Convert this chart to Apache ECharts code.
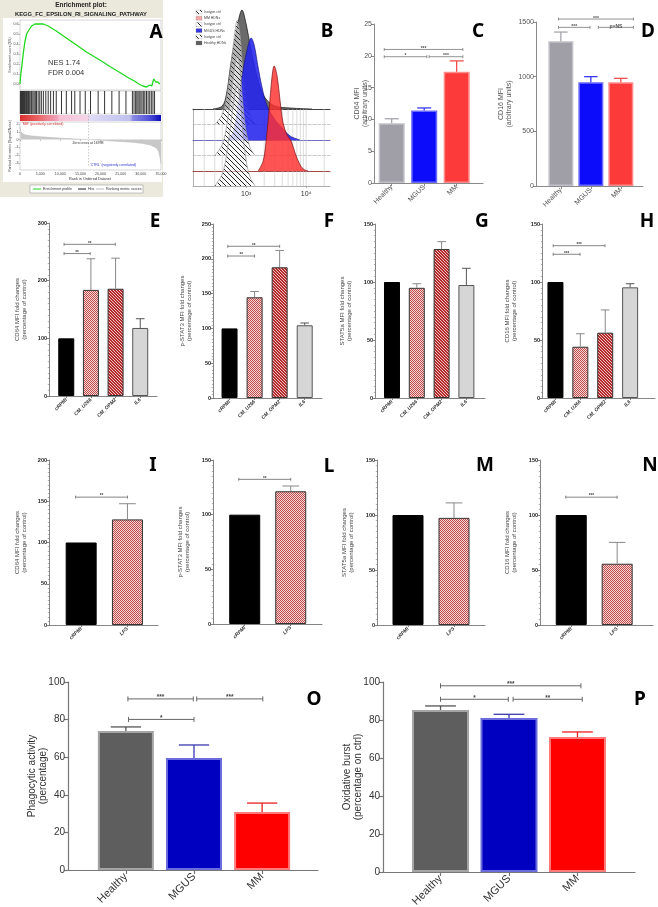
<!DOCTYPE html>
<html>
<head>
<meta charset="utf-8">
<title>Monocyte CD64 / CD16 panels</title>
<script src="https://cdn.jsdelivr.net/npm/echarts@6.0.0/dist/echarts.min.js"></script>
<style>
  html, body { margin: 0; padding: 0; background: #fff; }
  #fig { width: 658px; height: 907px; }
</style>
</head>
<body>
<div id="fig"></div>
<script>
// ---------- data ----------

// A: GSEA enrichment plot
const esRank  = [0, 200, 400, 800, 1200, 1650, 2200, 2900, 3700, 4500, 5800, 7000, 9000, 11500, 14000, 16500, 19800, 22500, 25000, 27000, 28400, 29500, 30500, 31400, 32200, 32700, 33200, 33700, 34200, 34700];
const esScore = [0, 0.1, 0.16, 0.3, 0.42, 0.5, 0.54, 0.58, 0.6, 0.6, 0.6, 0.58, 0.53, 0.46, 0.39, 0.32, 0.24, 0.17, 0.11, 0.06, 0.03, 0.0, -0.02, -0.03, -0.01, -0.02, 0.05, 0.02, 0.02, 0.0];
const hitRanks = [100, 250, 400, 600, 750, 900, 1100, 1300, 1500, 1650, 1900, 2100, 2400, 2700, 2900, 3200, 3500, 3800, 4100, 4500, 4900, 5300, 5800, 6400, 7000, 7600, 8300, 9000,
  10300, 11500, 12800, 13600, 14900, 16200, 17500, 19400, 21000, 22800, 24600, 26300,
  27900, 28300, 28700, 29000, 29300, 29600, 30000, 30300, 30700, 31000, 31400, 31800, 32200, 32600, 33000, 33400];
const metricRank  = [0, 150, 500, 1200, 2500, 5000, 8000, 12000, 16998, 21000, 25000, 28000, 30500, 32500, 33800, 34400, 34800, 35000];
const metricScore = [1.7, 1.1, 0.8, 0.62, 0.48, 0.36, 0.25, 0.12, 0, -0.12, -0.25, -0.36, -0.5, -0.72, -1.05, -1.5, -2.4, -3.1];
const zeroCross = 16998;
const esTicks = [0, 0.1, 0.2, 0.3, 0.4, 0.5, 0.6];
const metricTicks = [2, 1, 0, -1, -2, -3];
const rankTicks = [0, 5000, 10000, 15000, 20000, 25000, 30000, 35000];

// B: CD64 histograms (intensity, event count)
const healthyMfi   = [280, 400, 470, 540, 630, 740, 850, 1000, 1180, 1410, 1700, 2140, 3000, 5400, 12500];
const healthyCount = [0, 3, 15, 40, 65, 88, 99, 85, 62, 40, 22, 10, 3, 1, 0];
const mgusMfi   = [500, 610, 735, 890, 1080, 1210, 1360, 1590, 1850, 2240, 3050, 3980, 5400, 7900];
const mgusCount = [0, 8, 35, 70, 95, 102, 95, 72, 52, 34, 20, 12, 4, 0];
const mmMfi   = [1590, 1920, 2150, 2420, 2710, 2930, 3280, 3680, 4130, 4810, 5620, 6550, 7650, 8920, 10800];
const mmCount = [0, 10, 30, 62, 95, 105, 95, 70, 48, 36, 30, 18, 8, 2, 0];
const isoMfi = [300, 400, 480, 560, 640, 710, 790, 880, 1000, 1180, 1410];
const isoHealthyCount = [0, 10, 30, 60, 90, 104, 90, 55, 25, 8, 0];
const isoMgusCount    = [0, 11, 32, 62, 88, 100, 86, 52, 24, 7, 0];
const isoMmCount      = [0, 12, 34, 64, 90, 100, 86, 54, 25, 8, 0];
const histGridMfi = [200, 300, 400, 500, 600, 700, 800, 900, 1000, 2000, 3000, 4000, 5000, 6000, 7000, 8000, 9000, 10000, 20000];
const histTickMfi = [1000, 10000];
const histTickText = ['10³', '10⁴'];
const histLegend = ['Isotype ctrl', 'MM HDNs', 'Isotype ctrl', 'MGUS HDNs', 'Isotype ctrl', 'Healthy HDNs'];

// C, D, O, P: patient groups
const groupCats = ['Healthy', 'MGUS', 'MM'];
const cd64Mfi    = [9.4, 11.4, 17.5];
const cd64MfiErr = [10.1, 11.8, 19.2];
const cd16Mfi    = [1325, 950, 948];
const cd16MfiErr = [1408, 1000, 985];
const phagocytic    = [74, 59.6, 30.9];
const phagocyticErr = [76.1, 66.5, 35.6];
const oxBurst    = [85.3, 81, 71];
const oxBurstErr = [87.4, 83, 73.7];

// E-H: conditioned media
const cmCats = ['cRPMI', 'CM_U266', 'CM_OPM2', 'IL6'];
const cmCd64      = [100, 184, 186, 118];
const cmCd64Err   = [100, 238, 239, 134];
const cmPstat3    = [100, 144.7, 187.8, 104.5];
const cmPstat3Err = [100, 153, 212, 107.8];
const cmStat5a    = [100, 95, 128.4, 97.4];
const cmStat5aErr = [100, 98.5, 134.8, 111.8];
const cmCd16      = [100, 44.2, 56.3, 95.4];
const cmCd16Err   = [100, 55.4, 75.9, 98.5];

// I-N: LPS
const lpsCats = ['cRPMI', 'LPS'];
const lpsCd64      = [100, 128];
const lpsCd64Err   = [100, 147];
const lpsPstat3    = [100, 121.4];
const lpsPstat3Err = [100, 126.2];
const lpsStat5a    = [100, 97.4];
const lpsStat5aErr = [100, 111];
const lpsCd16      = [100, 55.7];
const lpsCd16Err   = [100, 75.1];

// significance brackets: [from, to, value, label]
const cBrackets = [[-0.23, 2.19, 21.0, '***'], [-0.23, 1.08, 19.86, '*'], [1.15, 2.19, 19.86, '***']];
const dBrackets = [[-0.08, 2.42, 1527, '***'], [-0.08, 0.97, 1451, '***'], [1.25, 2.42, 1451, 'p=NS']];
const eBrackets = [[-0.09, 1.99, 263, '**'], [-0.09, 0.97, 247, '**']];
const fBrackets = [[-0.07, 2.0, 218, '**'], [-0.07, 1.0, 204, '**']];
const hBrackets = [[-0.09, 1.99, 131.3, '***'], [-0.09, 0.99, 123.9, '***']];
const iBrackets = [[-0.12, 1.0, 155, '**']];
const lBrackets = [[-0.13, 1.0, 132.3, '**']];
const nBrackets = [[-0.12, 1.0, 116.2, '***']];
const oBrackets = [[0.03, 0.99, 91, '***'], [1.04, 2.01, 91, '***'], [0.04, 1.0, 80.1, '*']];
const pBrackets = [[0, 2.05, 98, '***'], [0, 0.99, 90.9, '*'], [1.06, 2.07, 90.9, '**']];

// ---------- helpers ----------
const FONT = '"Liberation Sans", Arial, sans-serif';
const gridL = [], xA = [], yA = [], seriesL = [], gfx = [];

function addGrid(g, xa, ya) {
  const i = gridL.length;
  gridL.push(Object.assign({containLabel: false, outerBoundsMode: 'none'}, g));
  xA.push(Object.assign({gridIndex: i, nameMoveOverlap: false}, xa));
  yA.push(Object.assign({gridIndex: i, nameMoveOverlap: false}, ya));
  return i;
}

function txt(x, y, text, font, fill, align, vAlign, rot) {
  gfx.push({
    type: 'text', x: x, y: y, rotation: rot || 0, z: 50,
    style: {text: text, font: font, fill: fill, align: align || 'left', textAlign: align || 'left',
            verticalAlign: vAlign || 'middle', textVerticalAlign: vAlign || 'middle'}
  });
}

function makePattern(w, h, draw) {
  const c = document.createElement('canvas');
  c.width = w; c.height = h;
  draw(c.getContext('2d'));
  return {image: c, repeat: 'repeat'};
}
const checkPink = makePattern(2, 2, ctx => {
  ctx.fillStyle = '#f3d8d8'; ctx.fillRect(0, 0, 2, 2);
  ctx.fillStyle = '#c24a4a'; ctx.fillRect(0, 0, 1, 1); ctx.fillRect(1, 1, 1, 1);
});
const hatchRed = makePattern(3, 3, ctx => {
  ctx.fillStyle = '#b42a2a'; ctx.fillRect(0, 0, 3, 3);
  ctx.fillStyle = '#efc4c4';
  for (let i = 0; i < 3; i++) ctx.fillRect(i, i, 1, 1);
});
// isotype hatch: see-through background, dark "\" strokes
const hatchIso = makePattern(5, 5, ctx => {
  ctx.fillStyle = 'rgba(255,255,255,0.5)'; ctx.fillRect(0, 0, 5, 5);
  ctx.fillStyle = '#262626';
  for (let i = 0; i < 5; i++) ctx.fillRect(i, i, 1, 1);
});

const styleSmall = {axis: '#8a8a8a', axisW: 1, tick: 3, num: 7, numColor: '#555', numWeight: 'normal', numMargin: 2,
  cat: 7, catColor: '#555', catWeight: 'normal', catStyle: 'normal', catMargin: 3, name: 7, nameLH: 8, nameColor: '#555',
  barBorder: 1.5, errW: 1.2, brk: '#777', brkW: 0.8, brkText: '#555', brkFont: 5, cap: 1.5, minor: false};
const styleTiny = {axis: '#666', axisW: 0.8, tick: 2, num: 5.5, numColor: '#222', numWeight: 'bold', numMargin: 2,
  cat: 5, catColor: '#333', catWeight: 'bold', catStyle: 'italic', catMargin: 3, name: 6, nameLH: 7.2, nameColor: '#444',
  barBorder: 1, errW: 1, brk: '#666', brkW: 0.8, brkText: '#444', brkFont: 4.5, cap: 1.5, minor: true};
const styleLarge = {axis: '#777', axisW: 1.2, tick: 4, num: 10, numColor: '#333', numWeight: 'normal', numMargin: 3,
  cat: 11, catColor: '#333', catWeight: 'normal', catStyle: 'normal', catMargin: 5, name: 10, nameLH: 10.5, nameColor: '#333',
  barBorder: 2, errW: 1.3, brk: '#666', brkW: 1, brkText: '#444', brkFont: 6.5, cap: 2.5, minor: false};

function barPanel(p) {
  const s = p.style;
  const idx = p.cats.map((c, i) => i);
  const gi = addGrid({left: p.left, top: p.top, width: p.width, height: p.height}, {
    type: 'value', min: p.xmin, max: p.xmax,
    axisLine: {show: true, onZero: false, lineStyle: {color: s.axis, width: s.axisW}},
    axisTick: {show: true, customValues: idx, length: s.tick, lineStyle: {color: s.axis, width: s.axisW}},
    axisLabel: {show: true, customValues: idx, formatter: v => p.cats[Math.round(v)], rotate: 45,
      fontSize: s.cat, color: s.catColor, fontWeight: s.catWeight, fontStyle: s.catStyle, margin: s.catMargin, fontFamily: FONT},
    splitLine: {show: false}
  }, {
    type: 'value', min: 0, max: p.ymax, interval: p.step,
    name: p.yName, nameLocation: 'middle', nameGap: p.nameGap, nameRotate: 90,
    nameTextStyle: {fontSize: s.name, color: s.nameColor, lineHeight: s.nameLH, fontFamily: FONT},
    axisLine: {show: true, onZero: false, lineStyle: {color: s.axis, width: s.axisW}},
    axisTick: {show: true, length: s.tick, lineStyle: {color: s.axis, width: s.axisW}},
    minorTick: {show: s.minor, splitNumber: 10, length: 1.2, lineStyle: {color: s.axis, width: 0.5}},
    axisLabel: {fontSize: s.num, color: s.numColor, fontWeight: s.numWeight, margin: s.numMargin, fontFamily: FONT,
      formatter: v => String(v)},
    splitLine: {show: false}
  });
  seriesL.push({
    type: 'bar', xAxisIndex: gi, yAxisIndex: gi, barWidth: p.barWidth, z: 3, silent: true,
    data: p.vals.map((v, i) => ({value: [i, v],
      itemStyle: {color: p.fills[i], borderColor: p.borders[i], borderWidth: s.barBorder}}))
  });
  seriesL.push({
    type: 'custom', xAxisIndex: gi, yAxisIndex: gi, z: 4, silent: true,
    encode: {x: 0, y: [1, 2]},
    data: p.vals.map((v, i) => [i, v, p.errs[i]]),
    renderItem: (params, api) => {
      const i = params.dataIndex;
      const top = api.coord([api.value(0), api.value(2)]);
      const base = api.coord([api.value(0), api.value(1)]);
      if (base[1] - top[1] < 0.5) return {type: 'group', children: []};
      const hw = p.barWidth * 0.27;
      const st = {stroke: p.errColors[i], lineWidth: s.errW};
      return {type: 'group', children: [
        {type: 'line', shape: {x1: top[0], y1: top[1], x2: base[0], y2: base[1]}, style: st},
        {type: 'line', shape: {x1: top[0] - hw, y1: top[1], x2: top[0] + hw, y2: top[1]}, style: st}
      ]};
    }
  });
  seriesL.push({
    type: 'custom', xAxisIndex: gi, yAxisIndex: gi, z: 4, silent: true,
    encode: {x: [0, 1], y: 2},
    data: p.brackets.map(b => [b[0], b[1], b[2]]),
    renderItem: (params, api) => {
      const b = p.brackets[params.dataIndex];
      const a = api.coord([b[0], b[2]]), c = api.coord([b[1], b[2]]);
      const st = {stroke: s.brk, lineWidth: s.brkW};
      const h = s.cap;
      return {type: 'group', children: [
        {type: 'line', shape: {x1: a[0], y1: a[1], x2: c[0], y2: c[1]}, style: st},
        {type: 'line', shape: {x1: a[0], y1: a[1] - h, x2: a[0], y2: a[1] + h}, style: st},
        {type: 'line', shape: {x1: c[0], y1: c[1] - h, x2: c[0], y2: c[1] + h}, style: st},
        {type: 'text', x: (a[0] + c[0]) / 2, y: a[1] + s.brkFont * 0.35,
          style: {text: b[3], fill: s.brkText, font: 'bold ' + s.brkFont + 'px ' + FONT,
                  align: 'center', textAlign: 'center', verticalAlign: 'bottom', textVerticalAlign: 'bottom'}}
      ]};
    }
  });
}

// ---------- panel A : GSEA ----------
gfx.push({type: 'rect', z: -10, shape: {x: 0, y: 0, width: 163, height: 197}, style: {fill: '#ebe9dc'}});
gfx.push({type: 'rect', z: -9, shape: {x: 3, y: 18, width: 159, height: 164}, style: {fill: '#ffffff'}});
txt(81, 5.5, 'Enrichment plot:', 'bold 6.5px ' + FONT, '#222', 'center');
txt(81, 14, 'KEGG_FC_EPSILON_RI_SIGNALING_PATHWAY', 'bold 5.8px ' + FONT, '#222', 'center');

const tinyAx = {fontSize: 3.6, color: '#444', fontFamily: FONT, margin: 1.5};
const esG = addGrid({left: 20, top: 20, width: 141, height: 70, show: true, borderColor: '#aaa', borderWidth: 0.5},
  {type: 'value', min: 0, max: 35000, axisLine: {show: false}, axisTick: {show: false}, axisLabel: {show: false}, splitLine: {show: false}},
  {type: 'value', min: -0.06, max: 0.64, axisLine: {show: false}, splitLine: {show: false},
   axisTick: {show: true, customValues: esTicks, length: 1.5, lineStyle: {color: '#888', width: 0.5}},
   axisLabel: Object.assign({customValues: esTicks, formatter: v => v.toFixed(1)}, tinyAx)});
seriesL.push({type: 'line', name: 'Enrichment profile', xAxisIndex: esG, yAxisIndex: esG, symbol: 'none', silent: true,
  lineStyle: {color: '#1ed81e', width: 1.3}, data: esRank.map((r, i) => [r, esScore[i]]), z: 5});

const hitG = addGrid({left: 20, top: 91, width: 141, height: 23, show: true, borderColor: '#aaa', borderWidth: 0.5},
  {type: 'value', min: 0, max: 35000, show: false},
  {type: 'value', min: 0, max: 1, show: false});
seriesL.push({type: 'custom', name: 'Hits', xAxisIndex: hitG, yAxisIndex: hitG, silent: true, encode: {x: 0},
  data: hitRanks.map(r => [r]),
  renderItem: (params, api) => {
    const a = api.coord([api.value(0), 0]), b = api.coord([api.value(0), 1]);
    return {type: 'line', shape: {x1: a[0], y1: a[1], x2: b[0], y2: b[1]}, style: {stroke: '#1e1e1e', lineWidth: 0.9}};
  }});
gfx.push({type: 'rect', z: 1, shape: {x: 20, y: 115, width: 141, height: 6},
  style: {fill: {type: 'linear', x: 0, y: 0, x2: 1, y2: 0, colorStops: [
    {offset: 0, color: '#d83030'}, {offset: 0.12, color: '#ea6060'}, {offset: 0.26, color: '#f0a0b8'},
    {offset: 0.28, color: '#f6c0d4'}, {offset: 0.48, color: '#f4d6e8'}, {offset: 0.5, color: '#dedcf6'},
    {offset: 0.78, color: '#c0c0ee'}, {offset: 0.8, color: '#8a8ae4'}, {offset: 0.92, color: '#5050d8'},
    {offset: 1, color: '#0a0ab8'}]}}});

const metG = addGrid({left: 20, top: 122, width: 141, height: 48, show: true, borderColor: '#aaa', borderWidth: 0.5},
  {type: 'value', min: 0, max: 35000, axisLine: {show: false}, splitLine: {show: false},
   axisTick: {show: true, customValues: rankTicks, length: 1.5, lineStyle: {color: '#888', width: 0.5}},
   axisLabel: Object.assign({customValues: rankTicks, formatter: v => v.toLocaleString('en-US')}, tinyAx)},
  {type: 'value', min: -3.9, max: 2.25, axisLine: {show: false}, splitLine: {show: false},
   axisTick: {show: true, customValues: metricTicks, length: 1.5, lineStyle: {color: '#888', width: 0.5}},
   axisLabel: Object.assign({customValues: metricTicks}, tinyAx)});
seriesL.push({type: 'line', name: 'Ranking metric scores', xAxisIndex: metG, yAxisIndex: metG, symbol: 'none', silent: true,
  lineStyle: {color: '#b8b8b8', width: 0.5}, areaStyle: {color: '#c8c8c8', opacity: 1},
  data: metricRank.map((r, i) => [r, metricScore[i]]), z: 3});
seriesL.push({type: 'custom', xAxisIndex: metG, yAxisIndex: metG, silent: true, encode: {x: 0}, data: [[zeroCross]], z: 4,
  renderItem: (params, api) => {
    const a = api.coord([api.value(0), 2.25]), b = api.coord([api.value(0), -3.5]);
    return {type: 'line', shape: {x1: a[0], y1: a[1] - 12, x2: b[0], y2: b[1]},
      style: {stroke: '#9a9a9a', lineWidth: 0.5, lineDash: [1.5, 1.5]}};
  }});
txt(10, 55, 'Enrichment score (ES)', '3.5px ' + FONT, '#444', 'center', 'middle', Math.PI / 2);
txt(10, 146, 'Ranked list metric (Signal2Noise)', '3.5px ' + FONT, '#444', 'center', 'middle', Math.PI / 2);
txt(22, 124.5, "'MM' (positively correlated)", '3.5px ' + FONT, '#d03030', 'left');
txt(90, 165, "'CTRL' (negatively correlated)", '3.5px ' + FONT, '#3030d0', 'left');
txt(88, 143.5, 'Zero cross at ' + zeroCross, '3.5px ' + FONT, '#333', 'center');
txt(90, 179, 'Rank in Ordered Dataset', '3.8px ' + FONT, '#333', 'center');
txt(48, 63, 'NES 1.74', '7.5px ' + FONT, '#333', 'left');
txt(48, 73, 'FDR 0.004', '7.5px ' + FONT, '#333', 'left');
// legend box for A
gfx.push({type: 'rect', z: 1, shape: {x: 30, y: 185, width: 113, height: 8}, style: {fill: '#fff', stroke: '#888', lineWidth: 0.5}});
[['Enrichment profile', '#1ed81e', 33], ['Hits', '#222', 78], ['Ranking metric scores', '#bbbbbb', 96]].forEach(e => {
  gfx.push({type: 'line', z: 2, shape: {x1: e[2], y1: 189, x2: e[2] + 8, y2: 189}, style: {stroke: e[1], lineWidth: 1}});
  txt(e[2] + 10, 189, e[0], '3.6px ' + FONT, '#333', 'left');
});

// ---------- panel B : staggered histograms ----------
const bLeft = 193, bWidth = 137, bMin = 130, bMax = 25000;
const boxG = addGrid({left: bLeft, top: 109, width: bWidth, height: 77},
  {type: 'log', logBase: 10, min: bMin, max: bMax, show: false},
  {type: 'value', min: 0, max: 1, axisLine: {show: true, onZero: false, lineStyle: {color: '#999', width: 0.8}},
   axisTick: {show: false}, axisLabel: {show: false}, splitLine: {show: false}});
seriesL.push({type: 'custom', xAxisIndex: boxG, yAxisIndex: boxG, silent: true, encode: {x: 0}, z: 1,
  data: histGridMfi.map(v => [v]),
  renderItem: (params, api) => {
    const a = api.coord([api.value(0), 0]), b = api.coord([api.value(0), 1]);
    return {type: 'line', shape: {x1: a[0], y1: a[1], x2: b[0], y2: b[1]}, style: {stroke: '#c4c4c4', lineWidth: 0.6}};
  }});

const layers = [
  {base: 109,   mfi: healthyMfi, cnt: healthyCount,    fill: '#6a6a6a', line: '#111', axis: '#111', dash: 'solid', op: 1},
  {base: 124.5, mfi: isoMfi,     cnt: isoHealthyCount, fill: hatchIso,  line: '#999', axis: '#bbb', dash: 'dashed', op: 1},
  {base: 140,   mfi: mgusMfi,    cnt: mgusCount,       fill: '#2424ee', line: '#1a1a80', axis: '#4a4ab8', dash: 'solid', op: 0.88},
  {base: 155.5, mfi: isoMfi,     cnt: isoMgusCount,    fill: hatchIso,  line: '#999', axis: '#bbb', dash: 'dashed', op: 1},
  {base: 171,   mfi: mmMfi,      cnt: mmCount,         fill: '#ff2e2e', line: '#7a1010', axis: '#8a1a1a', dash: 'solid', op: 0.82},
  {base: 186,   mfi: isoMfi,     cnt: isoMmCount,      fill: hatchIso,  line: '#999', axis: '#999', dash: 'solid', op: 1}
];
layers.forEach((L, k) => {
  const last = k === layers.length - 1;
  const gi = addGrid({left: bLeft, top: L.base - 108, width: bWidth, height: 108},
    {type: 'log', logBase: 10, min: bMin, max: bMax,
     axisLine: {show: true, onZero: false, lineStyle: {color: L.axis, width: 0.8, type: L.dash}},
     axisTick: {show: last, customValues: histTickMfi, length: 2, lineStyle: {color: '#888', width: 0.6}},
     axisLabel: {show: last, customValues: histTickMfi, formatter: v => histTickText[histTickMfi.indexOf(Math.round(v))] || '',
       fontSize: 7, color: '#333', margin: 5, fontFamily: FONT},
     minorTick: {show: false}, splitLine: {show: false}},
    {type: 'value', min: 0, max: 108, show: false});
  seriesL.push({type: 'line', xAxisIndex: gi, yAxisIndex: gi, smooth: 0.35, symbol: 'none', silent: true, z: 5 + k,
    lineStyle: {color: L.line, width: 0.7}, areaStyle: {color: L.fill, opacity: L.op},
    data: L.mfi.map((m, i) => [m, L.cnt[i]])});
});
// B legend
const legFills = [hatchIso, '#f4a6a6', hatchIso, '#3535e0', hatchIso, '#5e5e5e'];
histLegend.forEach((t, i) => {
  const y = 12 + i * 6.2;
  gfx.push({type: 'rect', z: 20, shape: {x: 196, y: y - 2, width: 6, height: 4}, style: {fill: legFills[i], stroke: '#888', lineWidth: 0.3}});
  txt(204, y, t, '3.5px ' + FONT, '#444', 'left');
});

// ---------- bar panels ----------
const groupFills = ['#a09ea6', '#0c0cfa', '#fd3a3a'];
const groupBorders = ['#c2c0c8', '#6a6aff', '#ff8a8a'];
const groupErr = ['#9f9da5', '#2a2aee', '#f04040'];
const darkFills = ['#5e5e5e', '#0000c0', '#ff0000'];
const darkBorders = ['#a5a5a5', '#6b6bde', '#ff7a7a'];
const darkErr = ['#555555', '#3a3ab0', '#e82020'];
const cmFills = ['#000000', checkPink, hatchRed, '#d6d6d6'];
const cmBorders = ['#000000', '#333333', '#333333', '#555555'];
const cmErr = ['#000000', '#888888', '#888888', '#555555'];
const lpsFills = ['#000000', checkPink];
const lpsBorders = ['#000000', '#333333'];
const lpsErr = ['#000000', '#888888'];

barPanel({left: 374, top: 24, width: 109, height: 159, xmin: -0.545, xmax: 2.81, ymax: 25, step: 5, barWidth: 26,
  cats: groupCats, vals: cd64Mfi, errs: cd64MfiErr, fills: groupFills, borders: groupBorders, errColors: groupErr,
  brackets: cBrackets, yName: 'CD64 MFI\n(arbitrary units)', nameGap: 5, style: styleSmall});
barPanel({left: 536, top: 22, width: 107, height: 164, xmin: -0.83, xmax: 2.74, ymax: 1500, step: 500, barWidth: 25,
  cats: groupCats, vals: cd16Mfi, errs: cd16MfiErr, fills: groupFills, borders: groupBorders, errColors: groupErr,
  brackets: dBrackets, yName: 'CD16 MFI\n(arbitrary units)', nameGap: 23, style: styleSmall});

barPanel({left: 49, top: 223, width: 108, height: 173, xmin: -0.70, xmax: 3.68, ymax: 300, step: 100, barWidth: 16,
  cats: cmCats, vals: cmCd64, errs: cmCd64Err, fills: cmFills, borders: cmBorders, errColors: cmErr,
  brackets: eBrackets, yName: 'CD64 MFI fold changes\n(percentage of control)', nameGap: 21, style: styleTiny});
barPanel({left: 213, top: 224, width: 109, height: 174, xmin: -0.66, xmax: 3.69, ymax: 250, step: 50, barWidth: 16,
  cats: cmCats, vals: cmPstat3, errs: cmPstat3Err, fills: cmFills, borders: cmBorders, errColors: cmErr,
  brackets: fBrackets, yName: 'p-STAT3 MFI fold changes\n(percentage of control)', nameGap: 20, style: styleTiny});
barPanel({left: 375, top: 224, width: 110, height: 174, xmin: -0.685, xmax: 3.75, ymax: 150, step: 50, barWidth: 16,
  cats: cmCats, vals: cmStat5a, errs: cmStat5aErr, fills: cmFills, borders: cmBorders, errColors: cmErr,
  brackets: [], yName: 'STAT5a MFI fold changes\n(percentage of control)', nameGap: 22, style: styleTiny});
barPanel({left: 542, top: 224, width: 113, height: 174, xmin: -0.54, xmax: 4.0, ymax: 150, step: 50, barWidth: 16,
  cats: cmCats, vals: cmCd16, errs: cmCd16Err, fills: cmFills, borders: cmBorders, errColors: cmErr,
  brackets: hBrackets, yName: 'CD16 MFI fold changes\n(percentage of control)', nameGap: 24, style: styleTiny});

barPanel({left: 49, top: 460, width: 109, height: 165, xmin: -0.695, xmax: 1.66, ymax: 200, step: 50, barWidth: 31,
  cats: lpsCats, vals: lpsCd64, errs: lpsCd64Err, fills: lpsFills, borders: lpsBorders, errColors: lpsErr,
  brackets: iBrackets, yName: 'CD64 MFI fold changes\n(percentage of control)', nameGap: 21, style: styleTiny});
barPanel({left: 213, top: 460, width: 109, height: 164, xmin: -0.69, xmax: 1.68, ymax: 150, step: 50, barWidth: 31,
  cats: lpsCats, vals: lpsPstat3, errs: lpsPstat3Err, fills: lpsFills, borders: lpsBorders, errColors: lpsErr,
  brackets: lBrackets, yName: 'p-STAT3 MFI fold changes\n(percentage of control)', nameGap: 22, style: styleTiny});
barPanel({left: 377, top: 460, width: 108, height: 165, xmin: -0.674, xmax: 1.674, ymax: 150, step: 50, barWidth: 31,
  cats: lpsCats, vals: lpsStat5a, errs: lpsStat5aErr, fills: lpsFills, borders: lpsBorders, errColors: lpsErr,
  brackets: [], yName: 'STAT5a MFI fold changes\n(percentage of control)', nameGap: 22, style: styleTiny});
barPanel({left: 540, top: 460, width: 113, height: 165, xmin: -0.68, xmax: 1.78, ymax: 150, step: 50, barWidth: 31,
  cats: lpsCats, vals: lpsCd16, errs: lpsCd16Err, fills: lpsFills, borders: lpsBorders, errColors: lpsErr,
  brackets: nBrackets, yName: 'CD16 MFI fold changes\n(percentage of control)', nameGap: 22, style: styleTiny});

barPanel({left: 68, top: 682, width: 250, height: 188, xmin: -0.849, xmax: 2.82, ymax: 100, step: 20, barWidth: 56,
  cats: groupCats, vals: phagocytic, errs: phagocyticErr, fills: darkFills, borders: darkBorders, errColors: darkErr,
  brackets: oBrackets, yName: 'Phagocytic activity\n(percentage)', nameGap: 20, style: styleLarge});
barPanel({left: 383, top: 682, width: 252, height: 190, xmin: -0.84, xmax: 2.84, ymax: 100, step: 20, barWidth: 57,
  cats: groupCats, vals: oxBurst, errs: oxBurstErr, fills: darkFills, borders: darkBorders, errColors: darkErr,
  brackets: pBrackets, yName: 'Oxidative burst\n(percentage on ctrl)', nameGap: 20, style: styleLarge});

// ---------- panel letters ----------
const LETTER = 'bold 19px "Noto Sans", "Open Sans", sans-serif';
[['A', 156, 33], ['B', 327, 32], ['C', 478, 32], ['D', 648, 32],
 ['E', 155, 222], ['F', 329, 222], ['G', 482, 222], ['H', 647, 222],
 ['I', 153, 466], ['L', 329, 467], ['M', 485, 466], ['N', 650, 466],
 ['O', 314, 700], ['P', 640, 700]].forEach(l => txt(l[1], l[2], l[0], LETTER, '#000', 'center'));

const chart = echarts.init(document.getElementById('fig'));
chart.setOption({
  animation: false,
  backgroundColor: '#ffffff',
  textStyle: {fontFamily: FONT},
  grid: gridL,
  xAxis: xA,
  yAxis: yA,
  series: seriesL,
  graphic: gfx
});
</script>
</body>
</html>
